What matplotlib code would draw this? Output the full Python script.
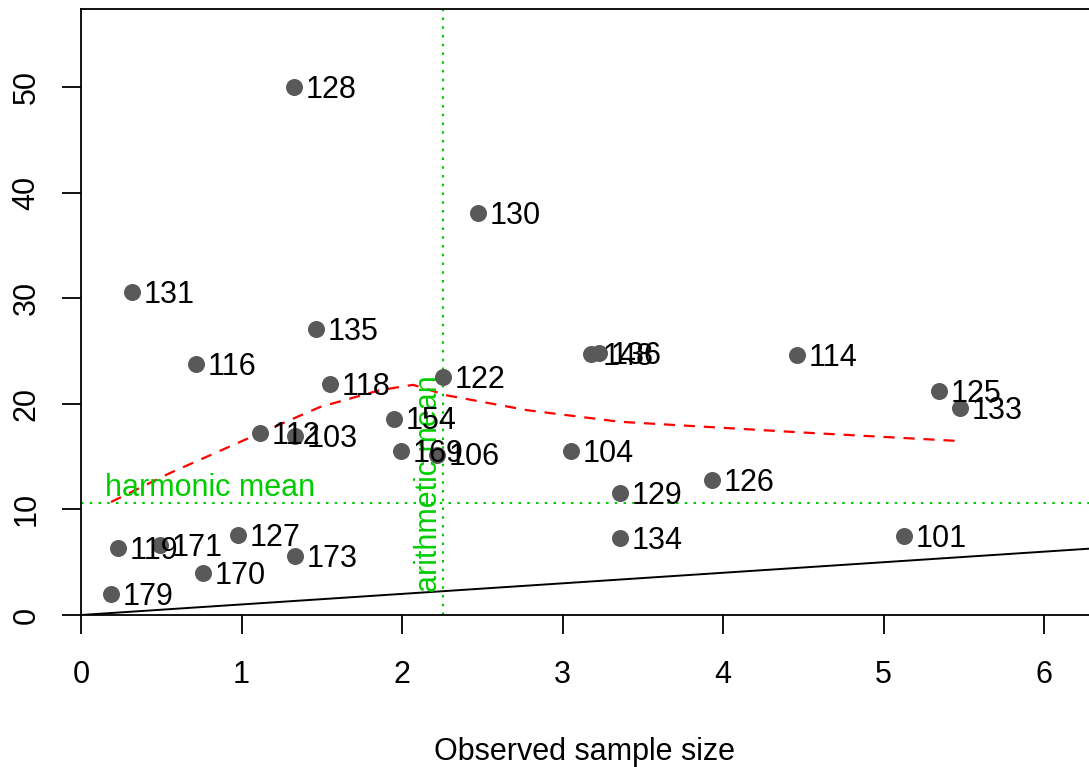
import matplotlib
matplotlib.use("Agg")
import matplotlib.pyplot as plt

plt.rcParams['font.family'] = ['Liberation Sans', 'DejaVu Sans']

# Point data (observed sample size vs value) with labels
labels = ["128", "130", "131", "135", "116", "118", "122", "148", "136", "114",
          "125", "133", "154", "112", "103", "169", "106", "104", "129", "126",
          "134", "101", "119", "171", "127", "173", "170", "179"]
x_vals = [1.327, 2.473, 0.318, 1.464, 0.717, 1.551, 2.255, 3.178, 3.227, 4.461,
          5.346, 5.477, 1.950, 1.115, 1.333, 1.994, 2.218, 3.053, 3.358, 3.931,
          3.358, 5.128, 0.231, 0.492, 0.978, 1.333, 0.760, 0.187]
y_vals = [50.0, 38.07, 30.6, 27.1, 23.8, 21.9, 22.5, 24.7, 24.8, 24.6,
          21.2, 19.6, 18.6, 17.2, 16.95, 15.5, 15.2, 15.5, 11.55, 12.8,
          7.3, 7.5, 6.3, 6.6, 7.6, 5.6, 4.0, 2.0]

# Smoothed trend (red dashed)
smooth_x = [0.187, 0.555, 1.115, 1.489, 1.863, 2.069, 2.28, 2.78, 3.358, 4.48, 5.445]
smooth_y = [10.70, 13.45, 17.23, 19.7, 21.3, 21.8, 20.8, 19.4, 18.3, 17.3, 16.5]

harmonic_mean = 10.6
arithmetic_mean = 2.255

x_ticks = [0, 1, 2, 3, 4, 5, 6]
y_ticks = [0, 10, 20, 30, 40, 50]

W, H = 1089, 767
fig = plt.figure(figsize=(W / 100, H / 100), dpi=100)
ax = fig.add_axes([81 / W, 152 / H, 1 - 81 / W, 606 / H])
ax.set_xlim(0, 6.28)
ax.set_ylim(0, 57.4)

fs = 22
green = "#00CD00"

ax.axline((0, 0), slope=1, color="black", lw=1.4, zorder=2)
ax.axhline(harmonic_mean, color=green, lw=1.5, ls=(0, (1.2, 3)), zorder=2)
ax.axvline(arithmetic_mean, color=green, lw=1.5, ls=(0, (1.2, 3)), zorder=2)
ax.plot(smooth_x, smooth_y, color="red", lw=1.6, ls=(0, (5, 4)), zorder=3)

ax.scatter(x_vals, y_vals, s=150, color="#595959", zorder=4, linewidths=0)
for lab, xv, yv in zip(labels, x_vals, y_vals):
    ax.annotate(lab, (xv, yv), xytext=(8.5, -2), textcoords="offset points",
                ha="left", va="center", fontsize=fs, color="black", zorder=5)

ax.text(0.15, 12.0, "harmonic mean", color=green, fontsize=fs, ha="left", va="center")
ax.text(2.17, 2.2, "arithmetic mean", color=green, fontsize=fs, rotation=90,
        ha="center", va="bottom")

ax.set_xticks(x_ticks)
ax.set_yticks(y_ticks)
ax.set_xticklabels([str(t) for t in x_ticks], fontsize=fs)
ax.set_yticklabels([str(t) for t in y_ticks], fontsize=fs, rotation=90, va="center")
ax.tick_params(axis="both", length=13.5, width=1.3, direction="out")
ax.tick_params(axis="x", pad=19)
ax.tick_params(axis="y", pad=15)
ax.spines["right"].set_visible(False)
for s in ["left", "bottom", "top"]:
    ax.spines[s].set_linewidth(1.3)

ax.set_xlabel("Observed sample size", fontsize=fs, labelpad=34)

fig.savefig("out.png", dpi=100)
